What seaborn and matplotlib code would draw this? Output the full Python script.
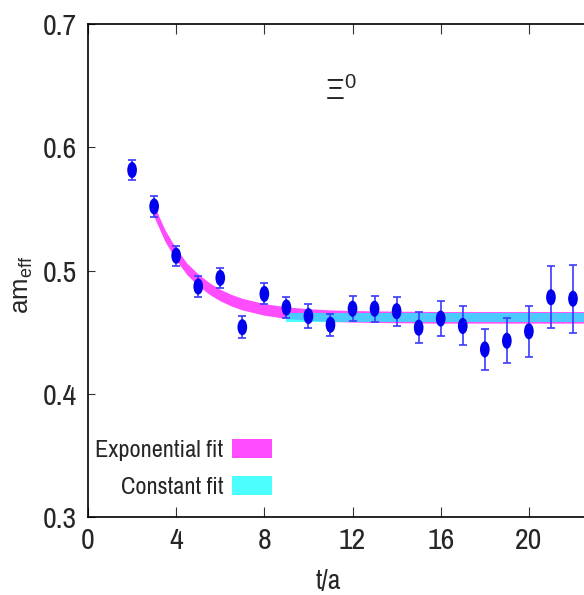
import numpy as np
import pandas as pd
import seaborn as sns
import matplotlib.pyplot as plt
from matplotlib import font_manager as fm
from matplotlib.path import Path
from matplotlib.transforms import Affine2D
from matplotlib.patches import Patch

# effective mass data
t_vals = [2, 3, 4, 5, 6, 7, 8, 9, 10, 11, 12, 13, 14, 15, 16, 17, 18, 19, 20, 21, 22]
m_eff = [0.5815, 0.552, 0.512, 0.487, 0.494, 0.454, 0.481, 0.470, 0.463, 0.456,
         0.469, 0.469, 0.467, 0.4536, 0.461, 0.455, 0.436, 0.443, 0.4507, 0.4783, 0.4771]
m_err = [0.008, 0.0087, 0.008, 0.0085, 0.008, 0.009, 0.0085, 0.0088, 0.0097, 0.009,
         0.0101, 0.0105, 0.0118, 0.0128, 0.0139, 0.0158, 0.0166, 0.0183, 0.0208, 0.025, 0.0276]

# exponential fit band (centre)
exp_t = [3, 3.5, 4, 4.5, 5, 5.5, 6, 6.5, 7, 8, 9, 10, 11, 12, 14, 16, 22.5]
exp_c = [0.548, 0.528, 0.513, 0.501, 0.4924, 0.4854, 0.480, 0.4759, 0.4727, 0.4684,
         0.4658, 0.4643, 0.4633, 0.4628, 0.4623, 0.462, 0.462]
exp_hw = 0.0047

# constant fit band
const_t = [9, 22.5]
const_val = 0.462
const_hw = 0.0038

df = pd.DataFrame({"t": t_vals, "m": m_eff, "err": m_err})

sns.set_theme(style="ticks")

# the reference uses a narrow font; take one if the system has it
narrow = None
for f in fm.fontManager.ttflist:
    if "Narrow" in f.name or "Condensed" in f.name:
        narrow = (f.name, "normal")
        break
if narrow is None:
    for f in fm.fontManager.ttflist:
        if f.stretch in ("condensed", "semi-condensed", "extra-condensed") and f.style == "normal":
            narrow = (f.name, f.stretch)
            break

if narrow is not None:
    plt.rcParams["font.family"] = [narrow[0], "DejaVu Sans"]
    plt.rcParams["font.stretch"] = narrow[1]
    tick_fs, leg_fs, lab_fs = 21.5, 17.5, 20
else:
    plt.rcParams["font.family"] = ["Liberation Sans", "DejaVu Sans"]
    tick_fs, leg_fs, lab_fs = 18.5, 16, 19
plt.rcParams["mathtext.fontset"] = "custom"
plt.rcParams["mathtext.rm"] = "Liberation Sans"
plt.rcParams["mathtext.it"] = "Liberation Sans"

fig = plt.figure(figsize=(5.84, 5.95), dpi=100)
ax = fig.add_axes([88 / 584, 1 - 517 / 595, 496 / 584, 493 / 595])

# fit bands
ec = np.array(exp_c)
ax.fill_between(exp_t, ec - exp_hw, ec + exp_hw, color="#ff00ff", alpha=0.7, lw=0)
ax.fill_between(const_t, const_val - const_hw, const_val + const_hw,
                color="#00ffff", alpha=0.7, lw=0)

# data with errors
ax.errorbar(df["t"], df["m"], yerr=df["err"], fmt="none", ecolor="#3a3aff",
            elinewidth=1.2, capsize=2.6, capthick=1.2, zorder=3)
ell = Path.unit_circle().transformed(Affine2D().scale(0.6, 1.0))
sns.scatterplot(data=df, x="t", y="m", marker=ell, s=135, color="#0000ee",
                edgecolor="none", linewidth=0, ax=ax, zorder=4)

ax.set_xlim(0, 22.5)
ax.set_ylim(0.3, 0.7)
ax.set_xticks([0, 4, 8, 12, 16, 20])
ax.set_yticks([0.3, 0.4, 0.5, 0.6, 0.7])
ax.set_yticklabels(["0.3", "0.4", "0.5", "0.6", "0.7"])
ax.tick_params(axis="x", direction="in", length=7.5, width=0.8, labelsize=tick_fs,
               pad=7, top=True, color="#333333")
ax.tick_params(axis="y", direction="in", length=5, width=0.8, labelsize=tick_fs,
               pad=8, color="#333333")
ax.spines["right"].set_visible(False)
for s in ["left", "bottom", "top"]:
    ax.spines[s].set_linewidth(1.2)
    ax.spines[s].set_color("black")

ax.set_xlabel("t/a", fontsize=lab_fs)
ax.xaxis.set_label_coords(0.484, -0.105)
ax.set_ylabel(r"am$_{\mathrm{eff}}$", fontsize=18.5,
              family=["Liberation Sans", "DejaVu Sans"], stretch="normal")
ax.yaxis.set_label_coords(-0.106, 0.47)

ax.text(11.45, 0.646, r"$\Xi^0$", fontsize=21, ha="center", va="center")

handles = [Patch(facecolor="#ff00ff", alpha=0.7, lw=0, label="Exponential fit"),
           Patch(facecolor="#00ffff", alpha=0.7, lw=0, label="Constant fit")]
fig.legend(handles=handles, loc="center right", bbox_to_anchor=(272 / 584, 1 - 468.5 / 595),
           frameon=False, markerfirst=False, fontsize=leg_fs,
           handlelength=40 / (leg_fs * 100 / 72), handleheight=20 / (leg_fs * 100 / 72),
           handletextpad=0.35, labelspacing=0.6, borderpad=0, borderaxespad=0)

plt.savefig("out.png", dpi=100)
